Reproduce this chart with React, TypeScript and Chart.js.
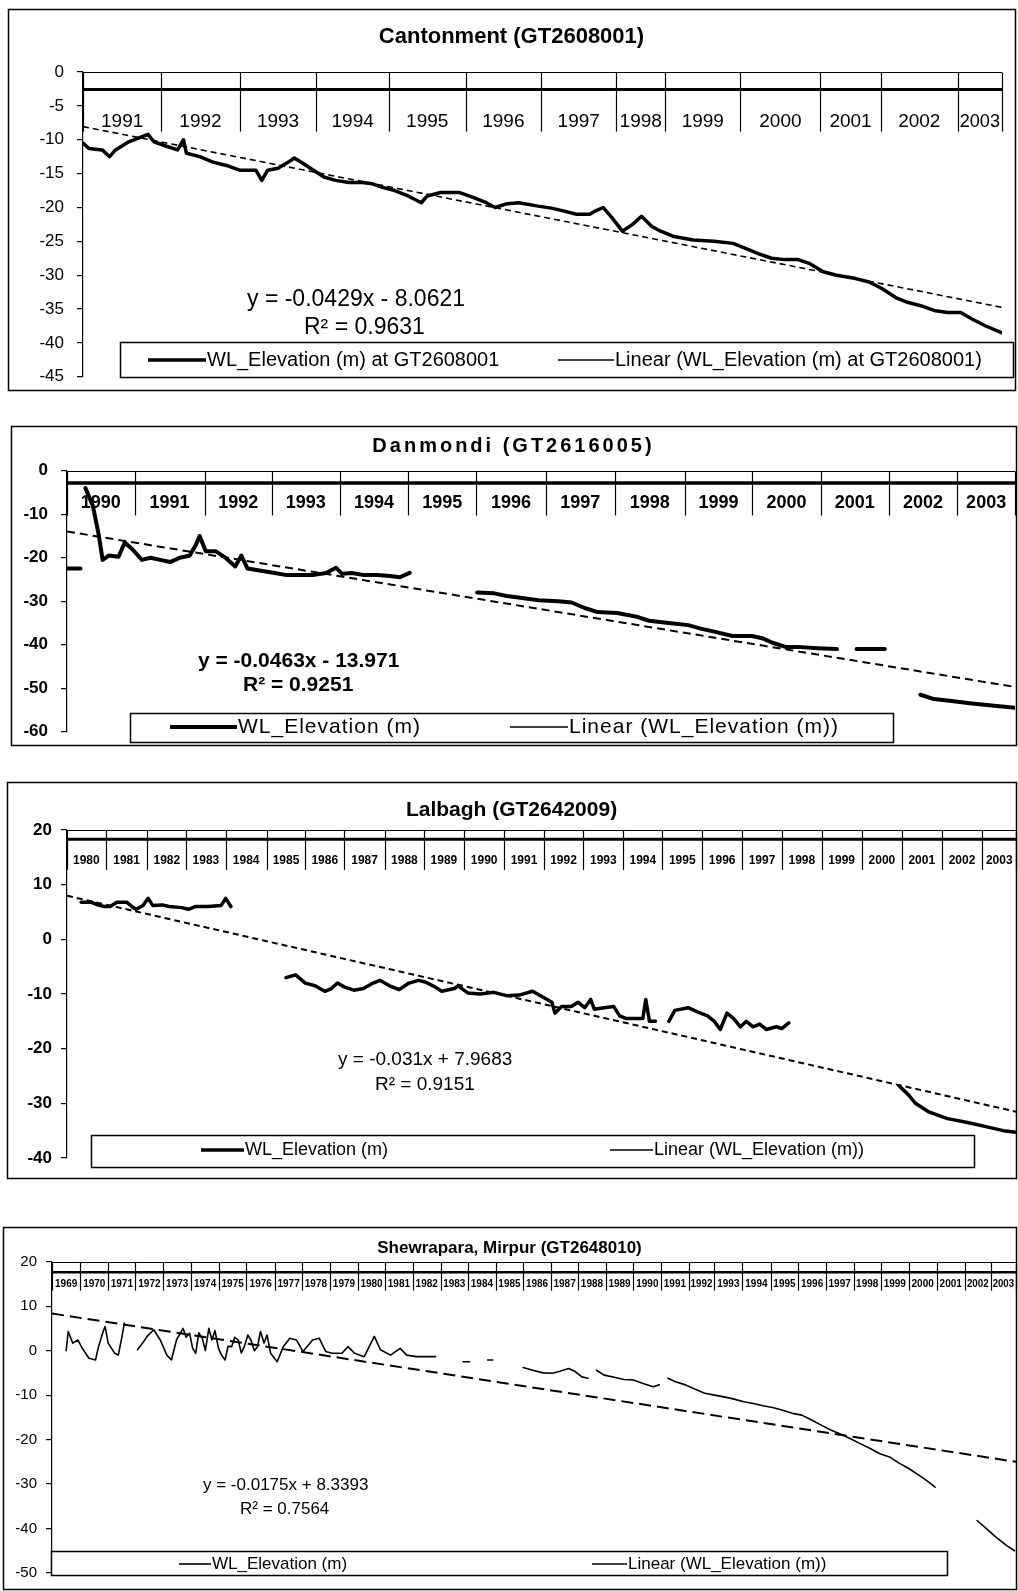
import React, { useEffect, useRef } from 'react';
import { Chart, registerables } from 'chart.js';

Chart.register(...registerables);

const FONT = "'Liberation Sans', Arial, Helvetica, sans-serif";

// ---------------- Cantonment (GT2608001) ----------------
const c1Years = ['1991', '1992', '1993', '1994', '1995', '1996', '1997', '1998', '1999', '2000', '2001', '2002', '2003'];
const c1Bounds = [0, 53, 106, 158, 207, 259, 310, 361, 394, 445, 499, 540, 592, 622];
const c1Idx = [0, 4, 13, 18, 22, 31, 37, 44, 48, 57, 64, 68, 70, 79, 88, 97, 106, 117, 121, 125, 132, 139, 143, 149, 156, 163, 171, 180, 189, 196, 202, 211, 220, 229, 233, 242, 255, 264, 273, 279, 286, 295, 308, 317, 325, 334, 343, 347, 352, 358, 365, 372, 378, 385, 391, 400, 413, 427, 440, 448, 457, 466, 475, 484, 492, 501, 510, 523, 532, 541, 550, 558, 567, 576, 585, 594, 602, 611, 622];
const c1Val = [-10.5, -11.3, -11.5, -12.5, -11.5, -10.3, -9.8, -9.2, -10.3, -11, -11.5, -10, -12, -12.5, -13.3, -13.8, -14.5, -14.5, -16, -14.5, -14.2, -13.3, -12.7, -13.5, -14.5, -15.5, -16, -16.3, -16.3, -16.5, -17, -17.5, -18.3, -19.3, -18.3, -17.8, -17.8, -18.5, -19.3, -20, -19.5, -19.3, -19.8, -20.1, -20.5, -21, -21, -20.5, -20, -21.5, -23.5, -22.5, -21.3, -22.8, -23.5, -24.3, -24.8, -25, -25.3, -26, -26.8, -27.5, -27.7, -27.7, -28.3, -29.5, -30, -30.5, -31, -32, -33.3, -34, -34.5, -35.2, -35.5, -35.5, -36.5, -37.5, -38.5];
const c1TrendX = [0, 622];
const c1TrendY = [-8.06, -34.75];

// ---------------- Danmondi (GT2616005) ----------------
const c2Years = ['1990', '1991', '1992', '1993', '1994', '1995', '1996', '1997', '1998', '1999', '2000', '2001', '2002', '2003'];
const c2Bounds = [0, 55, 112, 167, 222, 278, 333, 390, 446, 503, 558, 614, 669, 725, 772];
const c2Idx = [0, 11, 13, 15, 21, 26, 29, 34, 42, 47, 53, 61, 68, 76, 84, 92, 100, 105, 108, 113, 121, 129, 137, 142, 147, 158, 169, 179, 190, 200, 211, 219, 224, 232, 242, 253, 263, 271, 279, 300, 334, 348, 358, 369, 384, 400, 411, 421, 432, 448, 463, 474, 490, 506, 516, 527, 542, 558, 566, 574, 585, 595, 611, 627, 635, 643, 666, 680, 695, 706, 722, 737, 753, 772];
const c2Val = [-22.5, -22.5, null, -4, -8, -15, -20.5, -19.5, -19.8, -16.5, -18, -20.5, -20, -20.5, -21, -20, -19.5, -17, -15, -18.5, -18.5, -20, -22, -19.5, -22.5, -23, -23.5, -24, -24, -24, -23.5, -22.3, -23.7, -23.5, -24, -24, -24.2, -24.5, -23.5, null, -28, -28.2, -28.8, -29.2, -29.8, -30, -30.3, -31.5, -32.5, -32.7, -33.5, -34.5, -35, -35.5, -36.3, -37, -38, -38, -38.5, -39.5, -40.5, -40.5, -40.8, -41, null, -41, -41, null, -51.5, -52.5, -53, -53.5, -54, -54.5];
const c2TrendX = [0, 772];
const c2TrendY = [-13.97, -49.72];

// ---------------- Lalbagh (GT2642009) ----------------
const c3Years = ['1980', '1981', '1982', '1983', '1984', '1985', '1986', '1987', '1988', '1989', '1990', '1991', '1992', '1993', '1994', '1995', '1996', '1997', '1998', '1999', '2000', '2001', '2002', '2003'];
const c3Bounds = [0, 52, 108, 160, 213, 268, 320, 372, 427, 479, 533, 587, 640, 693, 747, 799, 853, 906, 960, 1013, 1067, 1121, 1174, 1229, 1274];
const c3Idx = [19, 32, 41, 50, 58, 67, 80, 89, 93, 102, 109, 115, 128, 137, 154, 163, 172, 189, 207, 213, 220, 257, 294, 307, 320, 333, 346, 355, 363, 372, 385, 398, 411, 420, 433, 446, 459, 472, 481, 494, 503, 520, 525, 538, 555, 573, 590, 607, 625, 638, 651, 655, 664, 677, 686, 695, 703, 708, 721, 734, 742, 751, 764, 773, 777, 782, 790, 799, 808, 816, 834, 847, 860, 869, 877, 886, 895, 904, 912, 921, 930, 939, 952, 960, 969, 1040, 1117, 1130, 1139, 1156, 1182, 1209, 1235, 1257, 1274];
const c3Val = [6.8, 6.8, 6.3, 6, 6, 6.8, 6.8, 5.8, 5.5, 6.2, 7.5, 6.2, 6.3, 6, 5.8, 5.5, 6, 6, 6.2, 7.5, 6, null, -7, -6.5, -8, -8.5, -9.5, -9, -8, -8.7, -9.3, -9, -8, -7.5, -8.5, -9.2, -8, -7.5, -7.8, -8.7, -9.5, -9, -8.5, -9.8, -10, -9.7, -10.3, -10.2, -9.5, -10.5, -11.5, -13.5, -12.3, -12.3, -11.5, -12.5, -11, -12.8, -12.5, -12.3, -14, -14.5, -14.5, -14.5, -11, -15, -15, null, -15, -13, -12.5, -13.3, -14, -15, -16.5, -13.5, -14.5, -16, -15, -16, -15.5, -16.5, -16, -16.3, -15.3, null, -26.8, -28.5, -30, -31.5, -32.8, -33.5, -34.3, -35, -35.3];
const c3TrendX = [0, 1274];
const c3TrendY = [7.97, -31.53];

// ---------------- Shewrapara, Mirpur (GT2648010) ----------------
const c4Years = ['1969', '1970', '1971', '1972', '1973', '1974', '1975', '1976', '1977', '1978', '1979', '1980', '1981', '1982', '1983', '1984', '1985', '1986', '1987', '1988', '1989', '1990', '1991', '1992', '1993', '1994', '1995', '1996', '1997', '1998', '1999', '2000', '2001', '2002', '2003'];
const c4Bounds = [0, 56, 111, 165, 220, 275, 330, 384, 441, 494, 549, 605, 658, 713, 768, 822, 877, 931, 986, 1040, 1094, 1149, 1204, 1258, 1309, 1364, 1420, 1475, 1529, 1584, 1638, 1693, 1748, 1804, 1855, 1905];
const c4Idx = [28, 32, 41, 51, 60, 73, 86, 92, 101, 105, 111, 124, 131, 137, 143, 156, 169, 179, 188, 201, 214, 227, 236, 246, 259, 265, 272, 278, 284, 290, 297, 303, 310, 316, 322, 329, 335, 342, 348, 355, 361, 368, 374, 380, 387, 393, 400, 406, 412, 419, 425, 432, 445, 457, 470, 483, 496, 515, 528, 541, 553, 573, 585, 598, 617, 637, 649, 669, 688, 701, 720, 746, 758, 785, 812, 825, 843, 861, 871, 900, 931, 950, 970, 989, 1002, 1021, 1034, 1047, 1059, 1068, 1076, 1091, 1111, 1130, 1149, 1168, 1188, 1200, 1208, 1217, 1232, 1252, 1271, 1290, 1309, 1328, 1348, 1367, 1386, 1405, 1424, 1444, 1463, 1482, 1501, 1521, 1540, 1559, 1578, 1597, 1617, 1636, 1655, 1674, 1693, 1713, 1732, 1745, 1790, 1828, 1847, 1866, 1886, 1902];
const c4Val = [0, 4.3, 1.7, 2.4, 0.5, -1.7, -2.1, 0.9, 4.3, 5.4, 1.7, -0.6, -1, 2.4, 6.2, null, 0.2, 1.7, 3.2, 4.7, 2.4, -1, -2.1, 2.4, 5, 3, 3.9, 0.5, -0.6, 4, 2.8, 0, 5, 2.4, 4.5, 0.5, -1, -2.1, 1, 0.9, 3, 2.4, -0.5, 0.9, 3.5, 2.4, 0, 0.9, 4.3, 1.7, 3.5, -0.6, -2.5, 0.9, 2.8, 2.4, -0.2, 2.4, 2.8, -0.2, -0.6, -0.6, 0.9, -0.6, -1.35, 3.2, 0.2, -1, 0.5, -1, -1.35, -1.35, -1.35, null, -2.5, -2.5, null, -2.1, -2.1, null, -3.8, -4.4, -5, -5.1, -4.7, -4, -4.7, -5.9, -6.2, null, -4.4, -5.5, -6, -6.5, -6.6, -7.4, -8.1, -7.7, null, -6.2, -7, -7.7, -8.7, -9.6, -10, -10.4, -10.9, -11.5, -11.9, -12.4, -12.8, -13.4, -14.1, -14.5, -15.6, -16.8, -17.9, -18.8, -19.8, -20.9, -22, -23.2, -23.9, -25.3, -26.5, -28, -29.5, -30.7, null, -38.2, -40.1, -42, -43.8, -45];
const c4TrendX = [0, 1905];
const c4TrendY = [8.34, -25.0];

type Spec = {
  key: string;
  canvasTop: number;
  canvasH: number;
  frame: number[];
  plot: { left: number; right: number; top: number; bottom: number };
  yMin: number;
  yMax: number;
  yStep: number;
  tickSize: number;
  tickBold: boolean;
  tickPad: number;
  xMax: number;
  xs: number[];
  ys: (number | null)[];
  trendX: number[];
  trendY: number[];
  lineW: number;
  trendW: number;
  dash: number[];
  years: string[];
  bounds: number[];
  axisVal: number;
  axisW: number;
  sepEnd: number;
  labelVal: number;
  yearSize: number;
  yearBold: boolean;
  title: string;
  titleY: number;
  titleSize: number;
  titleSpacing: number;
  eq1: string;
  eq2: string;
  eq1Pos: number[];
  eq2Pos: number[];
  eqSize: number;
  eqBold: boolean;
  legBox: number[];
  legY: number;
  leg1Line: number[];
  leg2Line: number[];
  leg1: string;
  leg2: string;
  legSize: number;
  legSpacing: number;
};

const specs: Spec[] = [
  {
    key: 'c1', canvasTop: 0, canvasH: 400, frame: [8, 9, 1015, 390],
    plot: { left: 83, right: 1002, top: 72, bottom: 378 },
    yMin: -45, yMax: 0, yStep: 5, tickSize: 17, tickBold: false, tickPad: 13,
    xMax: 622, xs: c1Idx, ys: c1Val, trendX: c1TrendX, trendY: c1TrendY,
    lineW: 3.5, trendW: 1.6, dash: [6, 4],
    years: c1Years, bounds: c1Bounds, axisVal: -2.6, axisW: 3, sepEnd: -8.8, labelVal: -7.3,
    yearSize: 19, yearBold: false,
    title: 'Cantonment (GT2608001)', titleY: 37, titleSize: 22, titleSpacing: 0,
    eq1: 'y = -0.0429x - 8.0621', eq2: 'R² = 0.9631', eq1Pos: [247, 300], eq2Pos: [304, 328], eqSize: 23, eqBold: false,
    legBox: [120, 342, 1013, 377], legY: 360, leg1Line: [148, 206], leg2Line: [558, 614],
    leg1: 'WL_Elevation (m) at GT2608001', leg2: 'Linear (WL_Elevation (m) at GT2608001)', legSize: 20, legSpacing: 0,
  },
  {
    key: 'c2', canvasTop: 400, canvasH: 360, frame: [11, 426, 1016, 745],
    plot: { left: 67, right: 1015, top: 470.7, bottom: 731.7 },
    yMin: -60, yMax: 0, yStep: 10, tickSize: 17, tickBold: true, tickPad: 13,
    xMax: 772, xs: c2Idx, ys: c2Val, trendX: c2TrendX, trendY: c2TrendY,
    lineW: 4, trendW: 2, dash: [8, 5],
    years: c2Years, bounds: c2Bounds, axisVal: -2.8, axisW: 3.5, sepEnd: -10.3, labelVal: -7.5,
    yearSize: 18, yearBold: true,
    title: 'Danmondi (GT2616005)', titleY: 446, titleSize: 20, titleSpacing: 3,
    eq1: 'y = -0.0463x - 13.971', eq2: 'R² = 0.9251', eq1Pos: [198, 661], eq2Pos: [243, 685], eqSize: 21, eqBold: true,
    legBox: [130, 713, 893, 742], legY: 727, leg1Line: [170, 237], leg2Line: [510, 568],
    leg1: 'WL_Elevation (m)', leg2: 'Linear (WL_Elevation (m))', legSize: 21, legSpacing: 1,
  },
  {
    key: 'c3', canvasTop: 760, canvasH: 435, frame: [7, 782, 1016, 1178],
    plot: { left: 67, right: 1016, top: 830, bottom: 1158 },
    yMin: -40, yMax: 20, yStep: 10, tickSize: 17, tickBold: true, tickPad: 9,
    xMax: 1274, xs: c3Idx, ys: c3Val, trendX: c3TrendX, trendY: c3TrendY,
    lineW: 3.5, trendW: 2, dash: [6, 4],
    years: c3Years, bounds: c3Bounds, axisVal: 18.3, axisW: 3, sepEnd: 12.7, labelVal: 14.4,
    yearSize: 12, yearBold: true,
    title: 'Lalbagh (GT2642009)', titleY: 810, titleSize: 21, titleSpacing: 0,
    eq1: 'y = -0.031x + 7.9683', eq2: 'R² = 0.9151', eq1Pos: [338, 1060], eq2Pos: [375, 1085], eqSize: 19, eqBold: false,
    legBox: [91, 1135, 974, 1167], legY: 1150, leg1Line: [201, 244], leg2Line: [610, 653],
    leg1: 'WL_Elevation (m)', leg2: 'Linear (WL_Elevation (m))', legSize: 18, legSpacing: 0,
  },
  {
    key: 'c4', canvasTop: 1195, canvasH: 396, frame: [3, 1227, 1016, 1589],
    plot: { left: 52, right: 1016, top: 1261.7, bottom: 1576.7 },
    yMin: -50, yMax: 20, yStep: 10, tickSize: 15, tickBold: false, tickPad: 9,
    xMax: 1905, xs: c4Idx, ys: c4Val, trendX: c4TrendX, trendY: c4TrendY,
    lineW: 1.6, trendW: 2, dash: [12, 6],
    years: c4Years, bounds: c4Bounds, axisVal: 17.6, axisW: 2.5, sepEnd: 13.5, labelVal: 14.9,
    yearSize: 10, yearBold: true,
    title: 'Shewrapara, Mirpur (GT2648010)', titleY: 1248, titleSize: 17, titleSpacing: 0,
    eq1: 'y = -0.0175x + 8.3393', eq2: 'R² = 0.7564', eq1Pos: [203, 1485], eq2Pos: [240, 1509], eqSize: 17, eqBold: false,
    legBox: [51, 1551, 947, 1575], legY: 1564, leg1Line: [179, 211], leg2Line: [592, 627],
    leg1: 'WL_Elevation (m)', leg2: 'Linear (WL_Elevation (m))', legSize: 17, legSpacing: 0,
  },
];

function seg(ctx: CanvasRenderingContext2D, x1: number, y1: number, x2: number, y2: number) {
  ctx.beginPath();
  ctx.moveTo(x1, y1);
  ctx.lineTo(x2, y2);
  ctx.stroke();
}

function overlay(s: Spec) {
  const oy = s.canvasTop;
  return {
    id: 'overlay_' + s.key,
    beforeDraw(chart: any) {
      const ctx: CanvasRenderingContext2D = chart.ctx;
      ctx.save();
      ctx.fillStyle = '#fff';
      ctx.fillRect(0, 0, chart.width, chart.height);
      const [l, t, r, b] = s.frame;
      ctx.strokeStyle = '#000';
      ctx.lineWidth = 1.5;
      ctx.strokeRect(l + 0.5, t - oy + 0.5, r - l, b - t);
      ctx.fillStyle = '#000';
      ctx.font = `bold ${s.titleSize}px ${FONT}`;
      (ctx as any).letterSpacing = s.titleSpacing + 'px';
      ctx.textAlign = 'center';
      ctx.textBaseline = 'middle';
      ctx.fillText(s.title, (l + r) / 2, s.titleY - oy);
      (ctx as any).letterSpacing = '0px';
      ctx.restore();
    },
    beforeDatasetsDraw(chart: any) {
      const ctx: CanvasRenderingContext2D = chart.ctx;
      const xs = chart.scales.x;
      const ys = chart.scales.y;
      const a = chart.chartArea;
      ctx.save();
      ctx.strokeStyle = '#000';
      const yTop = Math.round(ys.getPixelForValue(s.yMax)) + 0.5;
      ctx.lineWidth = 1.2;
      seg(ctx, a.left, yTop, a.right, yTop);
      const yAx = ys.getPixelForValue(s.axisVal);
      ctx.lineWidth = s.axisW;
      seg(ctx, a.left, yAx, a.right, yAx);
      const ySep = ys.getPixelForValue(s.sepEnd);
      ctx.lineWidth = 1.2;
      s.bounds.forEach((bv) => {
        const px = Math.round(xs.getPixelForValue(bv)) + 0.5;
        seg(ctx, px, yTop, px, ySep);
      });
      ctx.fillStyle = '#000';
      ctx.font = `${s.yearBold ? 'bold ' : ''}${s.yearSize}px ${FONT}`;
      ctx.textAlign = 'center';
      ctx.textBaseline = 'middle';
      const yLab = ys.getPixelForValue(s.labelVal);
      s.years.forEach((yr, i) => {
        const x0 = xs.getPixelForValue(s.bounds[i]);
        const x1 = xs.getPixelForValue(s.bounds[i + 1]);
        ctx.fillText(yr, (x0 + x1) / 2, yLab, Math.max(4, x1 - x0 - 4));
      });
      ctx.restore();
    },
    afterDatasetsDraw(chart: any) {
      const ctx: CanvasRenderingContext2D = chart.ctx;
      ctx.save();
      ctx.fillStyle = '#000';
      ctx.textBaseline = 'middle';
      ctx.textAlign = 'left';
      ctx.font = `${s.eqBold ? 'bold ' : ''}${s.eqSize}px ${FONT}`;
      ctx.fillText(s.eq1, s.eq1Pos[0], s.eq1Pos[1] - oy);
      ctx.fillText(s.eq2, s.eq2Pos[0], s.eq2Pos[1] - oy);
      // legend box
      const [l, t, r, b] = s.legBox;
      ctx.fillStyle = '#fff';
      ctx.fillRect(l, t - oy, r - l, b - t);
      ctx.strokeStyle = '#000';
      ctx.lineWidth = 1.5;
      ctx.strokeRect(l + 0.5, t - oy + 0.5, r - l, b - t);
      const ly = s.legY - oy;
      ctx.lineWidth = s.lineW;
      seg(ctx, s.leg1Line[0], ly, s.leg1Line[1], ly);
      ctx.lineWidth = 1.5;
      seg(ctx, s.leg2Line[0], ly, s.leg2Line[1], ly);
      ctx.fillStyle = '#000';
      ctx.font = `${s.legSize}px ${FONT}`;
      (ctx as any).letterSpacing = s.legSpacing + 'px';
      ctx.fillText(s.leg1, s.leg1Line[1] + 1, ly);
      ctx.fillText(s.leg2, s.leg2Line[1] + 1, ly);
      (ctx as any).letterSpacing = '0px';
      ctx.restore();
    },
  };
}

function buildConfig(s: Spec): any {
  const pts = s.xs.map((x, i) => ({ x, y: s.ys[i] }));
  const trend = s.trendX.map((x, i) => ({ x, y: s.trendY[i] }));
  return {
    type: 'line',
    data: {
      datasets: [
        {
          label: s.leg1,
          data: pts,
          borderColor: '#000',
          borderWidth: s.lineW,
          pointRadius: 0,
          tension: 0,
          spanGaps: false,
          fill: false,
          borderJoinStyle: 'round',
          borderCapStyle: 'round',
        },
        {
          label: s.leg2,
          data: trend,
          borderColor: '#000',
          borderWidth: s.trendW,
          borderDash: s.dash,
          pointRadius: 0,
          fill: false,
        },
      ],
    },
    options: {
      responsive: false,
      maintainAspectRatio: false,
      animation: false,
      devicePixelRatio: 1,
      events: [],
      layout: {
        padding: {
          left: 0,
          right: 1018 - s.plot.right,
          top: s.plot.top - s.canvasTop,
          bottom: s.canvasTop + s.canvasH - s.plot.bottom,
        },
      },
      scales: {
        x: { type: 'linear', min: 0, max: s.xMax, display: false },
        y: {
          type: 'linear',
          min: s.yMin,
          max: s.yMax,
          afterFit: (sc: any) => {
            sc.width = s.plot.left;
          },
          ticks: {
            stepSize: s.yStep,
            color: '#000',
            padding: s.tickPad,
            autoSkip: false,
            font: { family: FONT, size: s.tickSize, weight: s.tickBold ? 'bold' : 'normal' },
            callback: (v: any) => String(v),
          },
          grid: { display: true, drawOnChartArea: false, drawTicks: true, tickLength: 6, color: '#000', lineWidth: 1.2 },
          border: { display: true, color: '#000', width: 1.2 },
        },
      },
      plugins: {
        legend: { display: false },
        title: { display: false },
        tooltip: { enabled: false },
      },
    },
    plugins: [overlay(s)],
  };
}

function Panel({ spec }: { spec: Spec }) {
  const ref = useRef<HTMLCanvasElement>(null);
  useEffect(() => {
    const canvas = ref.current;
    if (!canvas) return;
    const chart = new Chart(canvas, buildConfig(spec));
    return () => chart.destroy();
  }, [spec]);
  return (
    <canvas
      ref={ref}
      width={1018}
      height={spec.canvasH}
      style={{ position: 'absolute', left: 0, top: spec.canvasTop, width: 1018, height: spec.canvasH, display: 'block' }}
    />
  );
}

export default function App() {
  return (
    <div style={{ position: 'absolute', left: 0, top: 0, width: 1018, height: 1591, background: '#fff', overflow: 'hidden' }}>
      {specs.map((s) => (
        <Panel key={s.key} spec={s} />
      ))}
    </div>
  );
}
